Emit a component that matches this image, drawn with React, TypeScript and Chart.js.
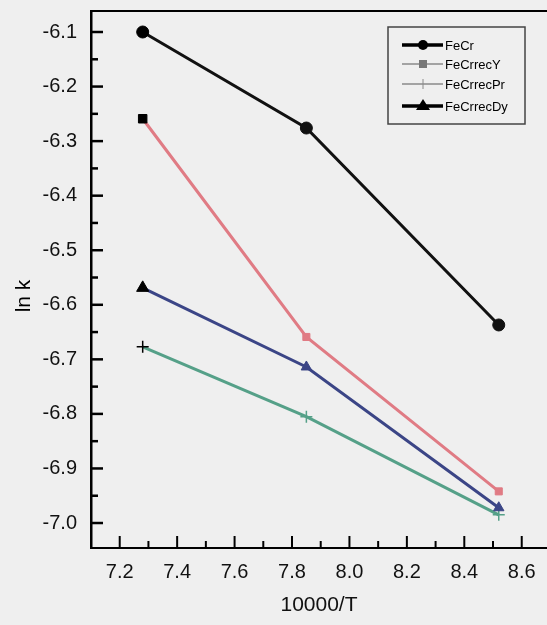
import React, { useEffect, useRef } from "react";
import { Chart, registerables } from "chart.js";

Chart.register(...registerables);

const xValues = [7.28, 7.85, 8.52];
const feCr = [-6.1, -6.276, -6.637];
const feCrRecY = [-6.259, -6.659, -6.942];
const feCrRecPr = [-6.677, -6.805, -6.985];
const feCrRecDy = [-6.569, -6.714, -6.972];
const seriesNames = ["FeCr", "FeCrrecY", "FeCrrecPr", "FeCrrecDy"];
const xTicks = [7.2, 7.4, 7.6, 7.8, 8.0, 8.2, 8.4, 8.6];
const yTicks = [-6.1, -6.2, -6.3, -6.4, -6.5, -6.6, -6.7, -6.8, -6.9, -7.0];

const FONT = "'Liberation Sans', Arial, sans-serif";
const BG = "#efefef";

const pts = (ys: number[]) => ys.map((y, i) => ({ x: xValues[i], y }));

const framePlugin = {
  id: "frame",
  beforeDraw(chart: any) {
    const ctx = chart.ctx;
    ctx.save();
    ctx.fillStyle = BG;
    ctx.fillRect(0, 0, chart.width, chart.height);
    ctx.restore();
  },
  afterDraw(chart: any) {
    const ctx = chart.ctx;
    const { left, right, top, bottom } = chart.chartArea;
    const xs = chart.scales.x;
    const ys = chart.scales.y;
    ctx.save();
    ctx.strokeStyle = "#000";
    // top frame line
    ctx.lineWidth = 2;
    ctx.beginPath();
    ctx.moveTo(left, top);
    ctx.lineTo(right, top);
    ctx.stroke();
    // x ticks (inward)
    ctx.lineWidth = 2;
    xTicks.forEach((v) => {
      const px = xs.getPixelForValue(v);
      ctx.beginPath();
      ctx.moveTo(px, bottom);
      ctx.lineTo(px, bottom - 12);
      ctx.stroke();
      const mp = xs.getPixelForValue(v + 0.1);
      if (mp < right - 2) {
        ctx.beginPath();
        ctx.moveTo(mp, bottom);
        ctx.lineTo(mp, bottom - 7);
        ctx.stroke();
      }
    });
    // y ticks (inward)
    ctx.lineWidth = 2.5;
    yTicks.forEach((v) => {
      const py = ys.getPixelForValue(v);
      ctx.beginPath();
      ctx.moveTo(left, py);
      ctx.lineTo(left + 12, py);
      ctx.stroke();
      const mp = ys.getPixelForValue(v + 0.05);
      if (mp > top + 2) {
        ctx.beginPath();
        ctx.moveTo(left, mp);
        ctx.lineTo(left + 7, mp);
        ctx.stroke();
      }
    });
    // y title
    ctx.fillStyle = "#000";
    ctx.font = `21px ${FONT}`;
    ctx.textAlign = "center";
    ctx.textBaseline = "middle";
    ctx.translate(24, 296);
    ctx.rotate(-Math.PI / 2);
    ctx.fillText("ln k", 0, 0);
    ctx.restore();

    // legend
    ctx.save();
    const bx = 388, by = 27, bw = 137, bh = 97;
    ctx.strokeStyle = "#444";
    ctx.lineWidth = 1.5;
    ctx.strokeRect(bx, by, bw, bh);
    const rows = [45, 64, 84, 106];
    const lcol = ["#000", "#8a8a8a", "#8a8a8a", "#000"];
    const lw = [3.5, 1.5, 1.5, 3.5];
    const styles = ["circle", "rect", "cross", "triangle"];
    rows.forEach((ry, i) => {
      ctx.strokeStyle = lcol[i];
      ctx.fillStyle = lcol[i];
      ctx.lineWidth = lw[i];
      ctx.beginPath();
      ctx.moveTo(402, ry);
      ctx.lineTo(443, ry);
      ctx.stroke();
      const cx = 423;
      ctx.lineWidth = 1;
      ctx.beginPath();
      if (styles[i] === "circle") {
        ctx.arc(cx, ry, 5, 0, Math.PI * 2);
        ctx.fill();
      } else if (styles[i] === "rect") {
        ctx.fillStyle = "#777";
        ctx.fillRect(cx - 4, ry - 4, 8, 8);
      } else if (styles[i] === "cross") {
        ctx.moveTo(cx, ry - 5);
        ctx.lineTo(cx, ry + 5);
        ctx.stroke();
      } else {
        ctx.moveTo(cx, ry - 7);
        ctx.lineTo(cx + 7, ry + 4);
        ctx.lineTo(cx - 7, ry + 4);
        ctx.closePath();
        ctx.fill();
      }
      ctx.fillStyle = "#000";
      ctx.font = `13px ${FONT}`;
      ctx.textAlign = "left";
      ctx.textBaseline = "middle";
      ctx.fillText(seriesNames[i], 445, ry + 1);
    });
    ctx.restore();
  },
};

export default function App() {
  const ref = useRef<HTMLCanvasElement | null>(null);
  useEffect(() => {
    if (!ref.current) return;
    const mk = (
      label: string,
      data: number[],
      color: string,
      style: string,
      firstColor: string,
      r0: number,
      r: number,
    ) => ({
      label,
      data: pts(data),
      borderColor: color,
      borderWidth: 3,
      pointStyle: style,
      pointRadius: data.map((_, i) => (i === 0 ? r0 : r)),
      pointBackgroundColor: data.map((_, i) => (i === 0 ? firstColor : color)),
      pointBorderColor: data.map((_, i) => (i === 0 ? firstColor : color)),
      pointBorderWidth: style === "cross" ? 1.5 : 1,
      tension: 0,
      fill: false,
      clip: false,
    });
    const chart = new Chart(ref.current, {
      type: "line",
      data: {
        datasets: [
          mk(seriesNames[0], feCr, "#111111", "circle", "#000", 6, 6),
          mk(seriesNames[1], feCrRecY, "#e07b84", "rect", "#000", 6, 5),
          mk(seriesNames[3], feCrRecDy, "#3b4586", "triangle", "#000", 7, 6),
          mk(seriesNames[2], feCrRecPr, "#55a088", "cross", "#000", 6, 6),
        ],
      },
      options: {
        responsive: false,
        animation: false,
        layout: { autoPadding: false, padding: { top: 11, left: 0, right: 0, bottom: 0 } },
        plugins: {
          legend: { display: false },
          tooltip: { enabled: false },
        },
        scales: {
          x: {
            type: "linear",
            min: 7.1,
            max: 8.688,
            afterBuildTicks: (s: any) => {
              s.ticks = xTicks.map((value) => ({ value }));
            },
            afterFit: (s: any) => {
              s.height = 77;
              s.paddingLeft = 0;
              s.paddingRight = 0;
            },
            grid: { display: true, drawOnChartArea: false, drawTicks: false },
            border: { display: true, color: "#000", width: 2 },
            ticks: {
              padding: 12,
              color: "#111",
              font: { family: FONT, size: 20 },
              callback: (v: any) => Number(v).toFixed(1),
            },
            title: {
              display: true,
              text: "10000/T",
              color: "#111",
              font: { family: FONT, size: 21 },
              padding: { top: 0, bottom: 7 },
            },
          },
          y: {
            type: "linear",
            min: -7.0458,
            max: -6.0615,
            afterBuildTicks: (s: any) => {
              s.ticks = yTicks.map((value) => ({ value }));
            },
            afterFit: (s: any) => {
              s.width = 91;
              s.paddingTop = 0;
              s.paddingBottom = 0;
            },
            grid: { display: true, drawOnChartArea: false, drawTicks: false },
            border: { display: true, color: "#000", width: 2.5 },
            ticks: {
              padding: 14,
              color: "#111",
              font: { family: FONT, size: 20 },
              callback: (v: any) => Number(v).toFixed(1),
            },
          },
        },
      },
      plugins: [framePlugin],
    } as any);
    return () => chart.destroy();
  }, []);
  return (
    <div style={{ position: "fixed", left: 0, top: 0, width: 547, height: 625, background: BG }}>
      <canvas ref={ref} width={547} height={625} />
    </div>
  );
}
